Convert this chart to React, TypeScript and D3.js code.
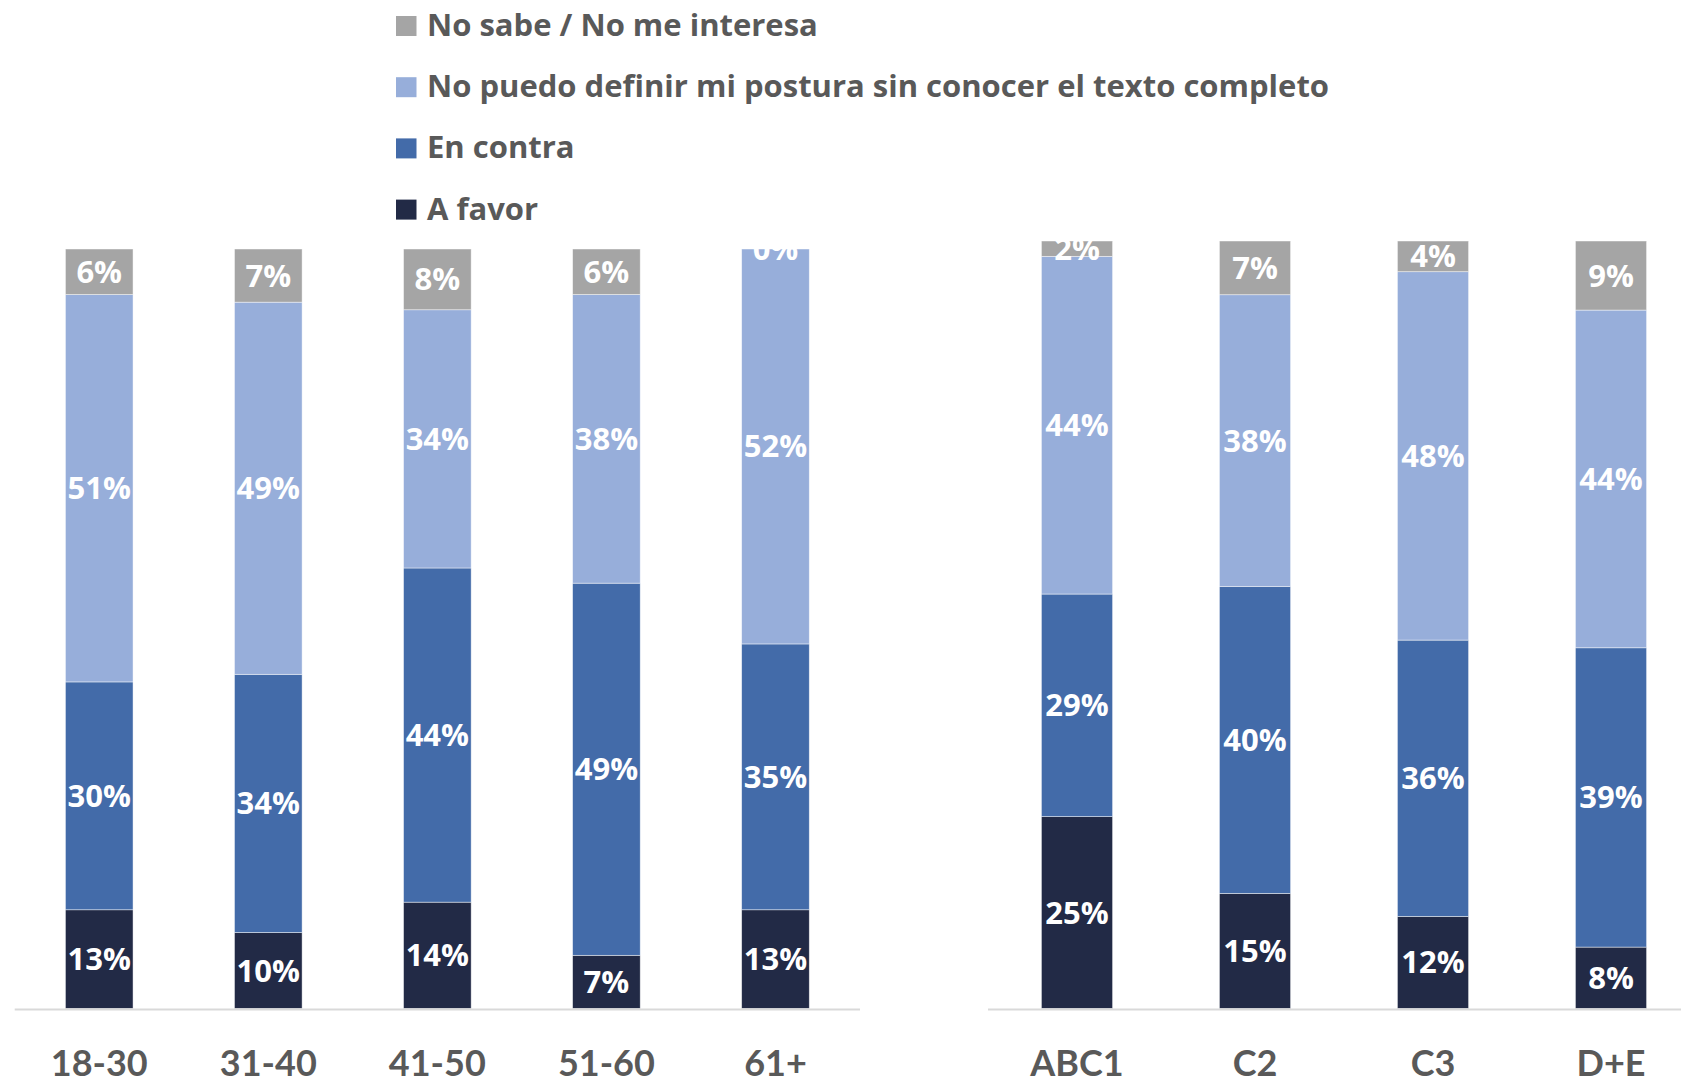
import React from 'react';
import * as d3 from 'd3';

const seriesKeys = ['favor', 'contra', 'nopuedo', 'nosabe'];
const seriesNames = ['A favor', 'En contra', 'No puedo definir mi postura sin conocer el texto completo', 'No sabe / No me interesa'];
const seriesColors = ['#222A46', '#436BA9', '#97AEDA', '#A5A5A5'];

const ageCats = ['18-30', '31-40', '41-50', '51-60', '61+'];
const ageFavor = [13, 10, 14, 7, 13];
const ageContra = [30, 34, 44, 49, 35];
const ageNoPuedo = [51, 49, 34, 38, 52];
const ageNoSabe = [6, 7, 8, 6, 0];

const segCats = ['ABC1', 'C2', 'C3', 'D+E'];
const segFavor = [25, 15, 12, 8];
const segContra = [29, 40, 36, 39];
const segNoPuedo = [44, 38, 48, 44];
const segNoSabe = [2, 7, 4, 9];

const FONT_AXIS = 'Lato, "Open Sans", sans-serif';
const FONT_MAIN = '"Open Sans", Lato, sans-serif';
const TEXT_COLOR = '#595959';
const BASE_Y = 1008.5;

function buildRows(cats: string[], a: number[], b: number[], c: number[], d: number[]) {
  return cats.map((cat, i) => ({ cat, favor: a[i], contra: b[i], nopuedo: c[i], nosabe: d[i] }));
}

function Panel({ id, rows, x0, x1, yTop }: { id: string; rows: any[]; x0: number; x1: number; yTop: number }) {
  const x = d3.scaleBand<string>().domain(rows.map(r => r.cat)).range([x0, x1]).paddingInner(0.6).paddingOuter(0.3);
  const y = d3.scaleLinear().domain([0, 100]).range([BASE_Y, yTop]);
  const stack = d3.stack<any>().keys(seriesKeys);
  const layers = stack(rows);
  return (
    <g>
      <defs>
        <clipPath id={`clip-${id}`}>
          <rect x={x0} y={yTop} width={x1 - x0} height={BASE_Y - yTop + 2} />
        </clipPath>
      </defs>
      {layers.map((layer, li) => (
        <g key={li}>
          {layer.map((d, i) => (
            <rect
              key={i}
              x={x(rows[i].cat)!}
              width={x.bandwidth()}
              y={y(d[1])}
              height={y(d[0]) - y(d[1])}
              fill={seriesColors[li]}
              stroke="#ffffff"
              strokeOpacity={0.6}
              strokeWidth={0.75}
            />
          ))}
        </g>
      ))}
      <g clipPath={`url(#clip-${id})`}>
        {layers.map((layer, li) => (
          <g key={li}>
            {layer.map((d, i) => (
              <text
                key={i}
                x={x(rows[i].cat)! + x.bandwidth() / 2}
                y={(y(d[0]) + y(d[1])) / 2 + 11}
                textAnchor="middle"
                fill="#ffffff"
                fontFamily={FONT_MAIN}
                fontWeight={700}
                fontSize={31}
              >
                {`${d[1] - d[0]}%`}
              </text>
            ))}
          </g>
        ))}
      </g>
      <line x1={x0} x2={x1} y1={BASE_Y + 1} y2={BASE_Y + 1} stroke="#D9D9D9" strokeWidth={2} />
      {rows.map((r, i) => (
        <text
          key={i}
          x={x(r.cat)! + x.bandwidth() / 2}
          y={1076}
          textAnchor="middle"
          fill={TEXT_COLOR}
          fontFamily={FONT_AXIS}
          fontWeight={700}
          fontSize={36}
        >
          {r.cat}
        </text>
      ))}
    </g>
  );
}

export default function App() {
  const ageRows = buildRows(ageCats, ageFavor, ageContra, ageNoPuedo, ageNoSabe);
  const segRows = buildRows(segCats, segFavor, segContra, segNoPuedo, segNoSabe);
  const legendOrder = [3, 2, 1, 0];
  return (
    <svg width={1681} height={1083} style={{ position: 'absolute', left: 0, top: 0, background: '#fff' }}>
      <rect x={0} y={0} width={1681} height={1083} fill="#ffffff" />
      <g>
        {legendOrder.map((si, i) => {
          const by = 36 + i * 61.2;
          return (
            <g key={si}>
              <rect x={396} y={by - 20} width={20.5} height={20} fill={seriesColors[si]} />
              <text x={427} y={by} fill={TEXT_COLOR} fontFamily={FONT_MAIN} fontWeight={700} fontSize={31}>
                {seriesNames[si]}
              </text>
            </g>
          );
        })}
      </g>
      <Panel id="age" rows={ageRows} x0={14.7} x1={860} yTop={249} />
      <Panel id="seg" rows={segRows} x0={988} x1={1700} yTop={241} />
    </svg>
  );
}
